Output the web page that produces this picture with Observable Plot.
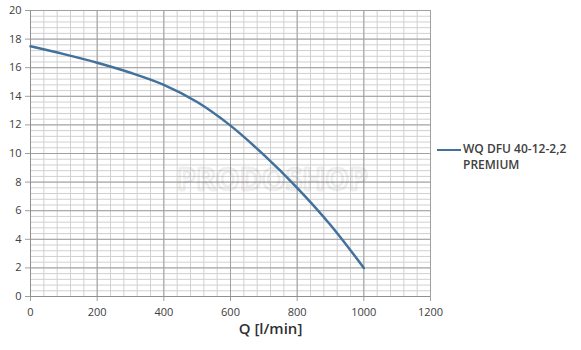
<!DOCTYPE html>
<html>
<head>
<meta charset="utf-8">
<script src="https://cdn.jsdelivr.net/npm/d3@7"></script>
<script src="https://cdn.jsdelivr.net/npm/@observablehq/plot@0.6"></script>
<style>
  html, body { margin: 0; padding: 0; background: #fff; }
  #wrap { position: relative; width: 581px; height: 350px; font-family: "Open Sans", sans-serif; }
  #legend { position: absolute; left: 437px; top: 141px; display: flex; align-items: flex-start; }
  #legend .sw { width: 24px; height: 0; border-top: 2.5px solid #41719c; margin-top: 8px; margin-right: 2px; }
  #legend .tx { font-size: 12px; font-weight: 600; color: #404040; line-height: 16px; }
</style>
</head>
<body>
<div id="wrap"><div id="chart"></div>
<div id="legend"><div class="sw"></div><div class="tx">WQ DFU 40-12-2,2<br>PREMIUM</div></div>
</div>
<script>
const seriesName = "WQ DFU 40-12-2,2 PREMIUM";
const flowQ = [0, 100, 200, 300, 400, 500, 600, 700, 800, 900, 1000];
const headH = [17.5, 16.95, 16.35, 15.65, 14.8, 13.6, 11.95, 9.9, 7.6, 5.0, 2.0];
const xTicks = [0, 200, 400, 600, 800, 1000, 1200];
const yTicks = [0, 2, 4, 6, 8, 10, 12, 14, 16, 18, 20];
const xMinor = d3.range(0, 1201, 40);
const yMinor = d3.range(0, 20.001, 0.4).map(v => +v.toFixed(1));
const xLabel = "Q [l/min]";

const data = flowQ.map((q, i) => ({q, h: headH[i]}));

const chart = Plot.plot({
  width: 581,
  height: 350,
  marginLeft: 30,
  marginTop: 10,
  marginRight: 151,
  marginBottom: 54,
  style: {fontFamily: "Open Sans, sans-serif", fontSize: "11px", color: "#404040", background: "#fff"},
  x: {domain: [0, 1200]},
  y: {domain: [0, 20]},
  marks: [
    Plot.gridX(xMinor, {stroke: "#d0d0d0", strokeOpacity: 1, strokeWidth: 1}),
    Plot.gridY(yMinor, {stroke: "#d0d0d0", strokeOpacity: 1, strokeWidth: 1}),
    Plot.gridX(xTicks, {stroke: "#a0a0a0", strokeOpacity: 1, strokeWidth: 1}),
    Plot.gridY(yTicks, {stroke: "#a0a0a0", strokeOpacity: 1, strokeWidth: 1}),
    Plot.text(["PRODOSHOP"], {frameAnchor: "middle", dx: 42, dy: 27, fontSize: 30, fontWeight: "bold", fill: "none", stroke: "#000", strokeOpacity: 0.07, strokeWidth: 3}),
    Plot.axisX(xTicks, {tickSize: 5, tickPadding: 7, stroke: "#a0a0a0", fill: "#404040", label: null, tickFormat: d => String(d)}),
    Plot.axisY(yTicks, {tickSize: 5, tickPadding: 4, stroke: "#a0a0a0", fill: "#404040", label: null, tickFormat: d => String(d)}),
    Plot.ruleY([0], {stroke: "#909090"}),
    Plot.ruleX([0], {stroke: "#909090"}),
    Plot.line(data, {x: "q", y: "h", stroke: "#41719c", strokeWidth: 2.5, curve: "catmull-rom"}),
    Plot.text([xLabel], {frameAnchor: "bottom", lineAnchor: "middle", dx: 40, dy: 33, fontSize: 15, fontWeight: 600, fill: "#303030"})
  ]
});
document.getElementById("chart").appendChild(chart);
</script>
</body>
</html>
